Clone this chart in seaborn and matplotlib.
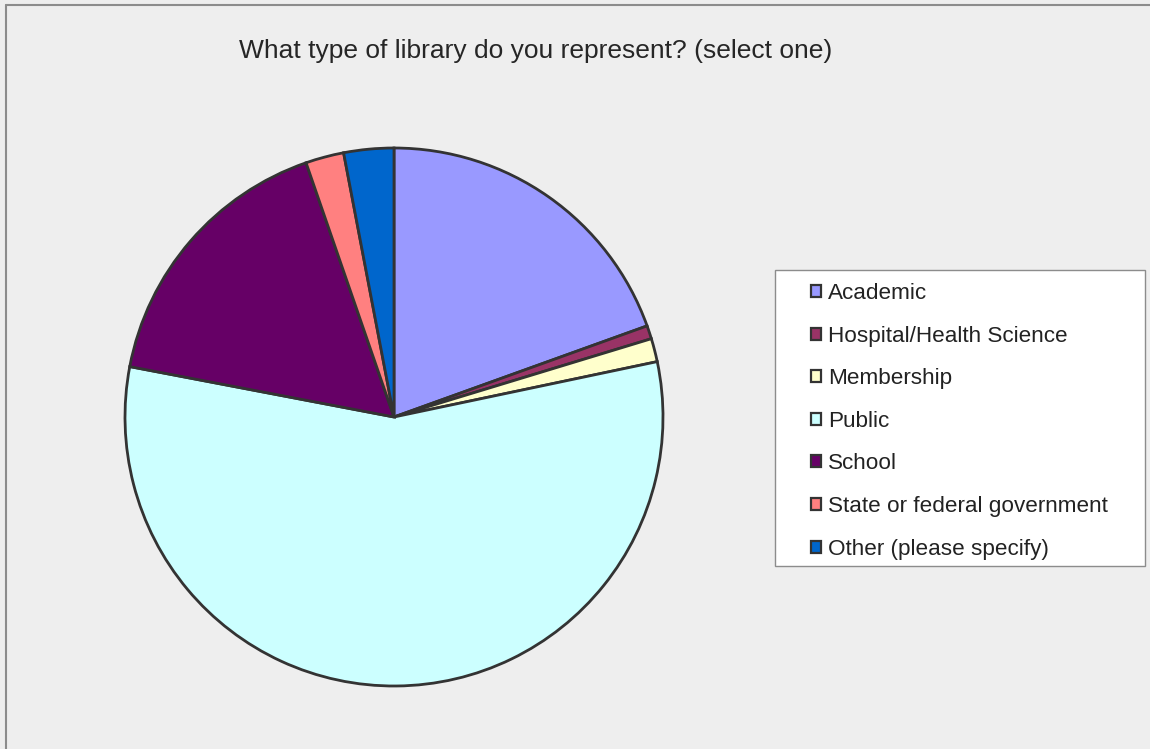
import matplotlib
matplotlib.use("Agg")
import matplotlib.pyplot as plt
from matplotlib.patches import Patch, Rectangle
from matplotlib.lines import Line2D
import seaborn as sns

# Survey responses (share of respondents, %)
categories = [
    "Academic",
    "Hospital/Health Science",
    "Membership",
    "Public",
    "School",
    "State or federal government",
    "Other (please specify)",
]
shares = [19.5, 0.8, 1.4, 56.3, 16.7, 2.3, 3.0]
slice_colors = ["#9999FF", "#993366", "#FFFFCC", "#CCFFFF", "#660066", "#FF8080", "#0066CC"]
title_text = "What type of library do you represent? (select one)"

sns.set_style("white")
plt.rcParams["font.family"] = ["Liberation Sans", "DejaVu Sans"]
palette = sns.color_palette(slice_colors)

W, H = 1150, 749
fig = plt.figure(figsize=(W / 100, H / 100), dpi=100)
fig.patch.set_facecolor("#EEEEEE")

# outer chart-area frame (top and left edges visible)
fig.add_artist(Line2D([6 / W, 6 / W], [0, 1 - 5 / H], color="#8C8C8C", lw=1.5))
fig.add_artist(Line2D([6 / W, 1], [1 - 5 / H, 1 - 5 / H], color="#8C8C8C", lw=1.5))

cx, cy, r = 394, 417, 269
ax = fig.add_axes([(cx - r) / W, (H - cy - r) / H, 2 * r / W, 2 * r / H])
ax.set_facecolor("none")
ax.pie(
    shares,
    colors=palette,
    startangle=90,
    counterclock=False,
    radius=1,
    wedgeprops=dict(edgecolor="#333333", linewidth=2.0),
)
ax.set_xlim(-1.0, 1.0)
ax.set_ylim(-1.0, 1.0)
ax.set_aspect("equal")
ax.axis("off")

fig.text(536 / W, 1 - 58 / H, title_text, ha="center", va="baseline",
         fontsize=19, color="#262626")

# legend box
lx0, ly0, lx1, ly1 = 775, 270, 1145, 566
fig.add_artist(Rectangle((lx0 / W, 1 - ly1 / H), (lx1 - lx0) / W, (ly1 - ly0) / H,
                         transform=fig.transFigure, facecolor="white",
                         edgecolor="#8C8C8C", linewidth=1.0, zorder=1))

handles = [Patch(facecolor=c, edgecolor="#333333", linewidth=1.6) for c in palette]
leg = fig.legend(
    handles, categories,
    loc="upper left",
    bbox_to_anchor=(811 / W, 1 - 283 / H),
    frameon=False,
    fontsize=16.2,
    handlelength=0.44,
    handleheight=0.44,
    handletextpad=0.33,
    labelspacing=0.96,
    borderpad=0,
    borderaxespad=0,
    labelcolor="#222222",
)
leg.set_zorder(2)

fig.savefig("out.png", dpi=100, facecolor=fig.get_facecolor())
